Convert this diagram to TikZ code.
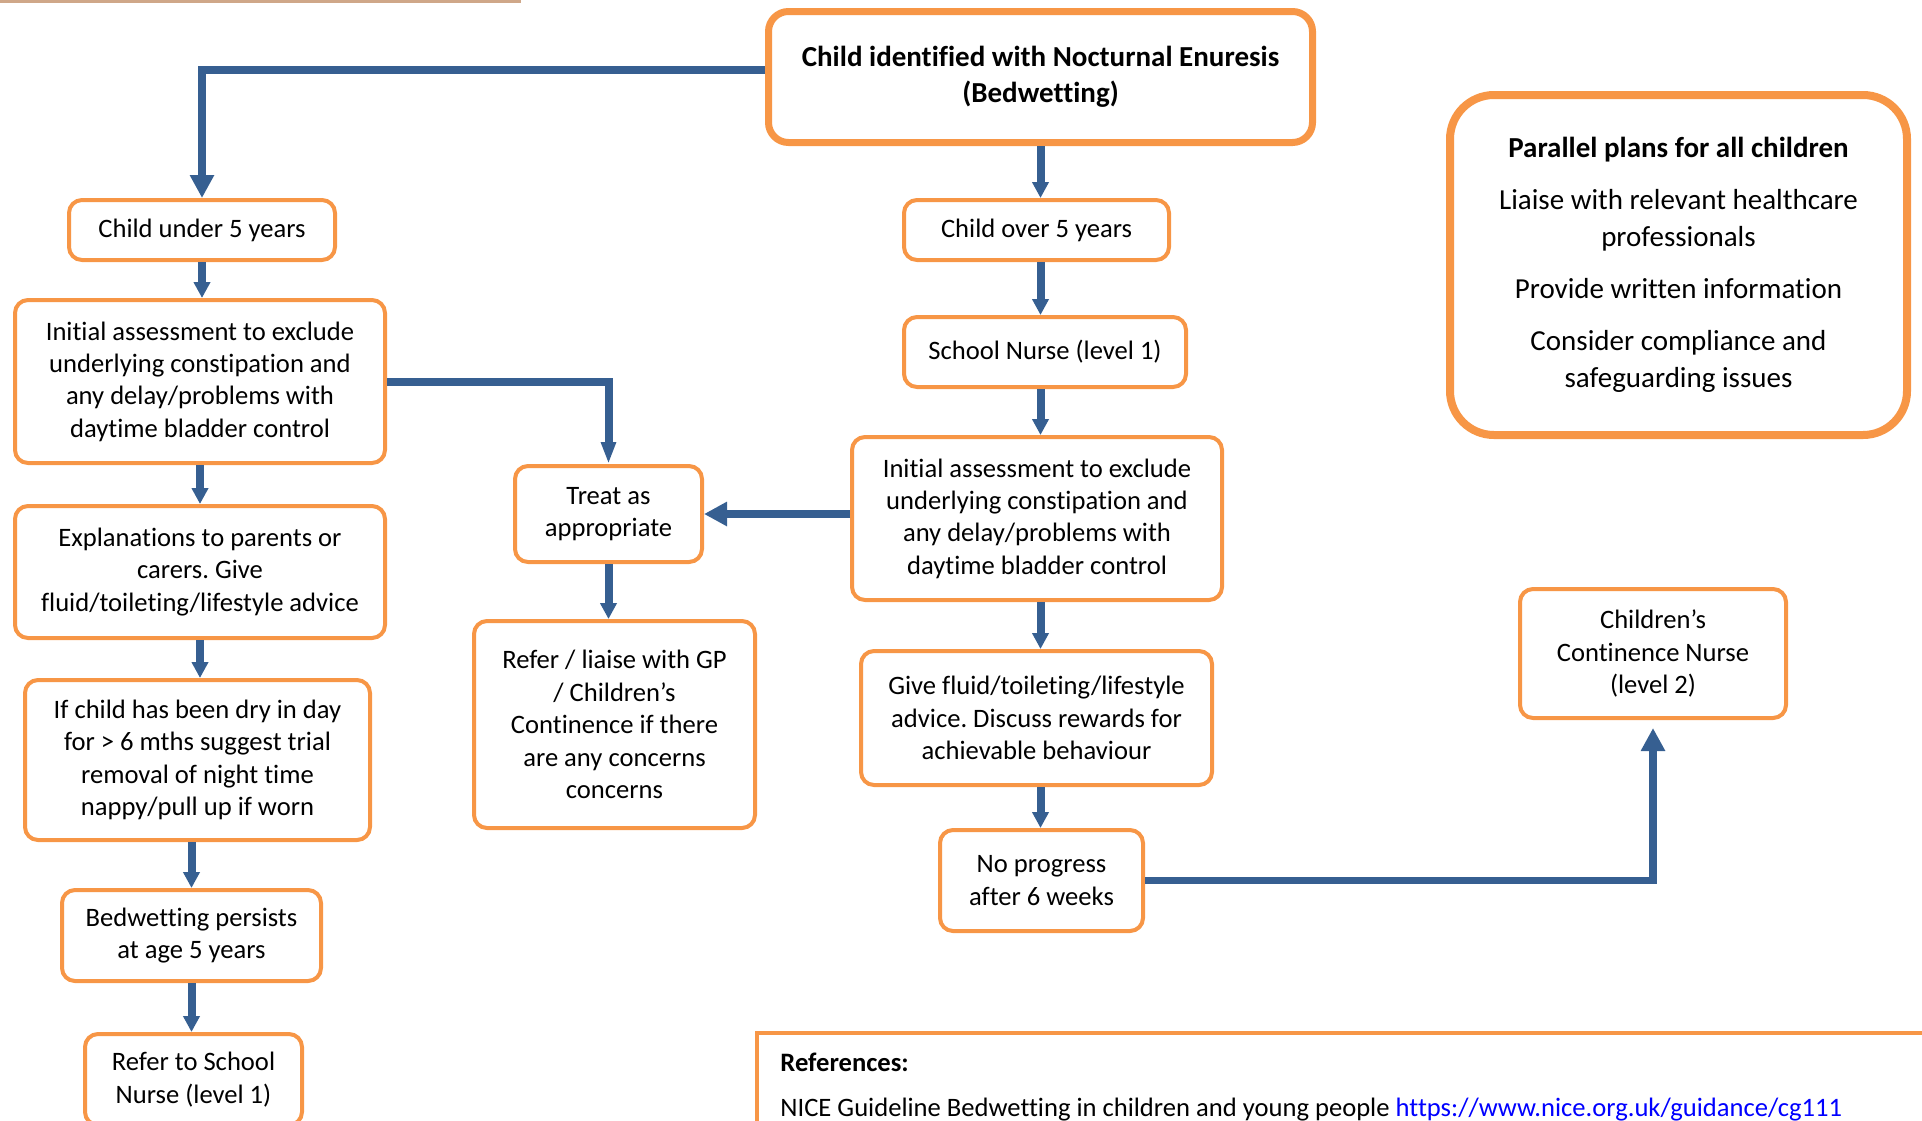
\documentclass[tikz,border=0pt]{standalone}
\usepackage{fontspec}
\setmainfont{Carlito}[Ligatures=NoCommon]
\usetikzlibrary{arrows.meta}
\definecolor{boxorange}{RGB}{247,150,70}
\definecolor{flowblue}{RGB}{54,95,145}
\definecolor{tanrule}{RGB}{207,167,137}
\definecolor{linkblue}{RGB}{0,0,255}
\newcommand{\bodytext}{\fontsize{13.3}{16.2}\selectfont}
\newcommand{\headtext}{\fontsize{14.5}{17.8}\selectfont}
\newcommand{\plantext}{\fontsize{14.5}{18.5}\selectfont}
\frenchspacing

\begin{document}
\begin{tikzpicture}[x=0.5pt,y=-0.5pt,
	stepbox/.style={draw=boxorange,line width=2pt,rounded corners=6.5pt,fill=white,align=center,inner sep=0pt,font=\bodytext},
	mainbox/.style={stepbox,line width=3.5pt,rounded corners=10pt,font=\headtext\bfseries},
	planbox/.style={stepbox,line width=4pt,rounded corners=22pt,font=\plantext},
	flow/.style={draw=flowblue,line width=4pt,-{Triangle[width=8pt,length=8pt]}},
	bigflow/.style={draw=flowblue,line width=3.8pt,-{Triangle[width=11.5pt,length=11.5pt]}}]
	\useasboundingbox (0,0) rectangle (1922,1120);
	\clip (0,0) rectangle (1922,1120);

	%Rule at the top left
	\draw [tanrule,line width=1.5pt] (0,1.5) -- (521,1.5);

	%Main box
	\node [mainbox,minimum width=272pt,minimum height=65.5pt] (main) at (1040.5,77) {Child identified with Nocturnal Enuresis\\(Bedwetting)};

	%Left branch (under five)
	\node [stepbox,minimum width=133pt,minimum height=30pt] (under5) at (202,230) {Child under 5 years};
	\node [stepbox,minimum width=185pt,minimum height=81.5pt] (assessL) at (200,381.5) {Initial assessment to exclude\\underlying constipation and\\any delay/problems with\\daytime bladder control};
	\node [stepbox,minimum width=185pt,minimum height=66pt] (explain) at (200,572) {Explanations to parents or\\carers. Give\\fluid/toileting/lifestyle advice};
	\node [stepbox,minimum width=172.5pt,minimum height=80pt] (drytrial) at (197.5,760) {If child has been dry in day\\for > 6 mths suggest trial\\removal of night time\\nappy/pull up if worn};
	\node [stepbox,minimum width=129.5pt,minimum height=45.5pt] (persist) at (191.5,935.5) {Bedwetting persists\\at age 5 years};
	\node [stepbox,minimum width=108.5pt,minimum height=45.5pt] (referSN) at (193.5,1079.5) {Refer to School\\Nurse (level 1)};

	%Middle column
	\node [stepbox,minimum width=93.5pt,minimum height=48pt] (treat) at (608.5,514) {Treat as\\appropriate};
	\node [stepbox,minimum width=140.5pt,minimum height=103.5pt] (referGP) at (614.5,724.5) {Refer / liaise with GP\\/ Children’s\\Continence if there\\are any concerns\\concerns};

	%Right branch (over five)
	\node [stepbox,minimum width=132.5pt,minimum height=30pt] (over5) at (1036.5,230) {Child over 5 years};
	\node [stepbox,minimum width=141pt,minimum height=35pt] (schoolN) at (1045,352) {School Nurse (level 1)};
	\node [stepbox,minimum width=185pt,minimum height=81.5pt] (assessR) at (1037,518.5) {Initial assessment to exclude\\underlying constipation and\\any delay/problems with\\daytime bladder control};
	\node [stepbox,minimum width=175.5pt,minimum height=67pt] (fluid) at (1036.5,718) {Give fluid/toileting/lifestyle\\advice. Discuss rewards for\\achievable behaviour};
	\node [stepbox,minimum width=101.5pt,minimum height=50.5pt] (noprog) at (1041.5,880.5) {No progress\\after 6 weeks};
	\node [stepbox,minimum width=133pt,minimum height=64.5pt] (ccnurse) at (1653,653.5) {Children’s\\Continence Nurse\\(level 2)};

	%Parallel plans
	\node [planbox,minimum width=228.5pt,minimum height=170pt] (plans) at (1678.5,265) {\textbf{Parallel plans for all children}\\[7.5pt]Liaise with relevant healthcare\\professionals\\[7.5pt]Provide written information\\[7.5pt]Consider compliance and\\safeguarding issues};

	%Arrows of the left branch
	\draw [bigflow] ([yshift=3.5pt]main.west) -| (under5.north);
	\draw [flow] (under5.south) -- (under5.south |- assessL.north);
	\draw [flow] (assessL.south) -- (explain.north);
	\draw [flow] (explain.south) -- (explain.south |- drytrial.north);
	\draw [flow] (persist.north |- drytrial.south) -- (persist.north);
	\draw [flow] (persist.south) -- (persist.south |- referSN.north);

	%Arrows to the middle column
	\draw [flow,-{Triangle[width=7pt,length=11pt]}] (assessL.east) -| (treat.north);
	\draw [bigflow] (treat.east -| assessR.west) -- (treat.east);
	\draw [flow] (treat.south) -- (treat.south |- referGP.north);

	%Arrows of the right branch
	\draw [flow] (main.south) -- (main.south |- over5.north);
	\draw [flow] (main.south |- over5.south) -- (main.south |- schoolN.north);
	\draw [flow] (main.south |- schoolN.south) -- (main.south |- assessR.north);
	\draw [flow] (main.south |- assessR.south) -- (main.south |- fluid.north);
	\draw [flow] (main.south |- fluid.south) -- (main.south |- noprog.north);
	\draw [bigflow,shorten >=4pt] (noprog.east) -| (ccnurse.south);

	%References
	\draw [boxorange,line width=2pt] (1930,1033) -- (757,1033) -- (757,1130);
	\node [anchor=west,inner sep=0pt,font=\bodytext\bfseries] (refhead) at (780,1062) {References:};
	\node [anchor=west,inner sep=0pt,font=\bodytext] (refnice) at (780,1110) {NICE Guideline Bedwetting in children and young people \textcolor{linkblue}{https://www.nice.org.uk/guidance/cg111}};
\end{tikzpicture}
\end{document}
